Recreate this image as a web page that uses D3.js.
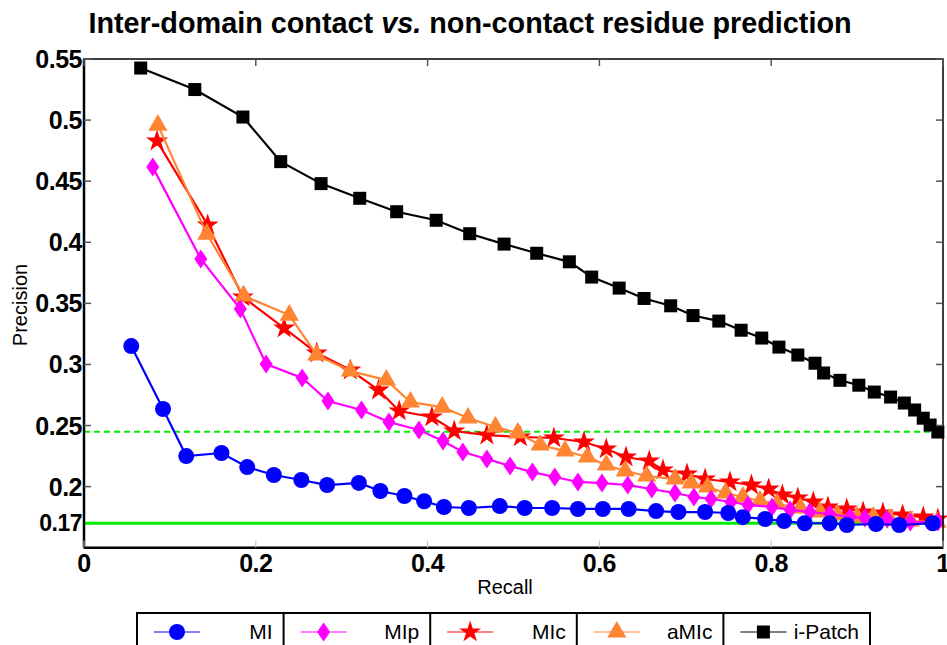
<!DOCTYPE html>
<html>
<head>
<meta charset="utf-8">
<script src="https://cdn.jsdelivr.net/npm/d3@7"></script>
<style>
  body { margin: 0; background: #fff; }
  svg { font-family: "Liberation Sans", Arial, Helvetica, sans-serif; }
  .tick-lab { font-weight: bold; font-size: 25px; fill: #000; }
</style>
</head>
<body>
<div id="chart"></div>
<script>
// precision / recall values
const miRecall = [0.055, 0.092, 0.119, 0.160, 0.190, 0.221, 0.253, 0.283, 0.320, 0.345, 0.373, 0.396, 0.419, 0.448, 0.484, 0.513, 0.545, 0.575, 0.604, 0.634, 0.666, 0.692, 0.723, 0.750, 0.767, 0.793, 0.815, 0.839, 0.868, 0.888, 0.922, 0.949, 0.988];
const miPrec   = [0.315, 0.2635, 0.225, 0.2275, 0.216, 0.2095, 0.2054, 0.2013, 0.203, 0.1964, 0.1923, 0.188, 0.1833, 0.1825, 0.1841, 0.1825, 0.1825, 0.1817, 0.1817, 0.1817, 0.180, 0.1792, 0.1792, 0.1784, 0.175, 0.1735, 0.1718, 0.170, 0.170, 0.1686, 0.1694, 0.1686, 0.170];

const mipRecall = [0.080, 0.136, 0.182, 0.212, 0.254, 0.284, 0.323, 0.355, 0.390, 0.418, 0.441, 0.469, 0.496, 0.522, 0.548, 0.575, 0.603, 0.633, 0.661, 0.688, 0.710, 0.730, 0.753, 0.773, 0.801, 0.822, 0.845, 0.868, 0.892, 0.909, 0.935, 0.962, 0.994];
const mipPrec   = [0.4615, 0.3863, 0.3453, 0.3003, 0.2889, 0.2700, 0.2627, 0.2529, 0.2463, 0.2373, 0.2283, 0.2226, 0.2169, 0.2119, 0.2079, 0.2038, 0.2029, 0.2013, 0.198, 0.1948, 0.1915, 0.1899, 0.1874, 0.185, 0.1833, 0.1809, 0.1792, 0.1776, 0.1751, 0.1743, 0.1735, 0.171, 0.171];

const micRecall = [0.085, 0.144, 0.185, 0.233, 0.271, 0.310, 0.343, 0.367, 0.405, 0.431, 0.469, 0.508, 0.547, 0.582, 0.608, 0.631, 0.658, 0.674, 0.702, 0.723, 0.752, 0.777, 0.797, 0.813, 0.831, 0.849, 0.866, 0.888, 0.907, 0.930, 0.953, 0.977, 0.994];
const micPrec   = [0.4828, 0.4141, 0.3552, 0.3298, 0.3093, 0.2954, 0.279, 0.2619, 0.257, 0.2455, 0.2422, 0.2406, 0.2398, 0.2365, 0.2308, 0.2242, 0.221, 0.2136, 0.2103, 0.2062, 0.2038, 0.2013, 0.198, 0.1931, 0.1907, 0.1874, 0.1833, 0.1817, 0.1792, 0.1784, 0.1768, 0.1751, 0.1735];

const amicRecall = [0.086, 0.143, 0.186, 0.239, 0.271, 0.310, 0.352, 0.380, 0.417, 0.447, 0.479, 0.505, 0.531, 0.560, 0.586, 0.608, 0.630, 0.655, 0.688, 0.707, 0.726, 0.747, 0.767, 0.787, 0.807, 0.834, 0.857, 0.877, 0.900, 0.919, 0.938, 0.962, 0.993];
const amicPrec   = [0.4959, 0.4067, 0.356, 0.3404, 0.3077, 0.2946, 0.2872, 0.2692, 0.2651, 0.2561, 0.2488, 0.2439, 0.234, 0.2291, 0.2242, 0.2177, 0.2128, 0.2087, 0.2062, 0.2029, 0.1997, 0.1948, 0.1915, 0.1882, 0.1858, 0.1825, 0.1792, 0.1768, 0.1751, 0.1751, 0.1735, 0.1718, 0.171];

const ipatchRecall = [0.066, 0.129, 0.185, 0.229, 0.276, 0.321, 0.364, 0.410, 0.449, 0.489, 0.527, 0.565, 0.591, 0.623, 0.652, 0.683, 0.709, 0.739, 0.765, 0.789, 0.809, 0.831, 0.851, 0.861, 0.880, 0.902, 0.920, 0.939, 0.955, 0.967, 0.977, 0.985, 0.994];
const ipatchPrec   = [0.5426, 0.525, 0.5025, 0.466, 0.448, 0.436, 0.425, 0.418, 0.407, 0.3985, 0.391, 0.384, 0.3715, 0.3625, 0.354, 0.348, 0.340, 0.3355, 0.328, 0.3216, 0.3142, 0.3077, 0.301, 0.293, 0.287, 0.283, 0.2774, 0.2733, 0.2684, 0.2627, 0.256, 0.2504, 0.2447];

const yTicks = [0.2, 0.25, 0.3, 0.35, 0.4, 0.45, 0.5, 0.55];
const xTicks = [0, 0.2, 0.4, 0.6, 0.8, 1];
const baseline = 0.17;      // random predictor
const dashedLevel = 0.245;

const seriesNames = ["MI", "MIp", "MIc", "aMIc", "i-Patch"];

function draw() {
  const width = 947, height = 645;
  const left = 84, right = 943, top = 59, bottom = 547.7;

  const x = d3.scaleLinear().domain([0, 1]).range([left, right]);
  const y = d3.scaleLinear().domain([0.15, 0.55]).range([bottom, top]);

  const svg = d3.select("#chart").append("svg")
    .attr("width", width).attr("height", height);

  const diamond = "M0,-9.5L6.5,0L0,9.5L-6.5,0Z";
  const series = [
    { name: "MI", xs: miRecall, ys: miPrec, color: "#0000ff", sym: "circle" },
    { name: "MIp", xs: mipRecall, ys: mipPrec, color: "#ff00ff", sym: "diamond" },
    { name: "MIc", xs: micRecall, ys: micPrec, color: "#ff0000", sym: "star" },
    { name: "aMIc", xs: amicRecall, ys: amicPrec, color: "#ff8533", sym: "triangle" },
    { name: "i-Patch", xs: ipatchRecall, ys: ipatchPrec, color: "#000000", sym: "square" }
  ];

  function marker(g, s) {
    if (s.sym === "circle") {
      g.append("circle").attr("r", 8).attr("fill", s.color);
    } else if (s.sym === "diamond") {
      g.append("path").attr("d", diamond).attr("fill", s.color);
    } else if (s.sym === "star") {
      g.append("path").attr("d", d3.symbol(d3.symbolStar, 150)()).attr("fill", s.color);
    } else if (s.sym === "triangle") {
      g.append("path").attr("d", d3.symbol(d3.symbolTriangle, 160)()).attr("fill", s.color);
    } else {
      g.append("rect").attr("x", -6.5).attr("y", -6.5).attr("width", 13).attr("height", 13).attr("fill", s.color);
    }
  }

  // reference lines
  svg.append("line")
    .attr("x1", x(0)).attr("x2", x(1))
    .attr("y1", y(dashedLevel)).attr("y2", y(dashedLevel))
    .attr("stroke", "#00ee00").attr("stroke-width", 2)
    .attr("stroke-dasharray", "6,4");
  svg.append("line")
    .attr("x1", x(0)).attr("x2", x(1))
    .attr("y1", y(baseline)).attr("y2", y(baseline))
    .attr("stroke", "#00ee00").attr("stroke-width", 3);

  const line = d3.line().x(d => x(d[0])).y(d => y(d[1]));
  const drawOrder = [4, 2, 3, 1, 0];
  drawOrder.forEach(i => {
    const s = series[i];
    const pts = s.xs.map((v, j) => [v, s.ys[j]]);
    svg.append("path").datum(pts)
      .attr("d", line)
      .attr("fill", "none")
      .attr("stroke", s.color)
      .attr("stroke-width", 2.2);
    svg.selectAll(null).data(pts).enter().append("g")
      .attr("transform", d => `translate(${x(d[0])},${y(d[1])})`)
      .each(function() { marker(d3.select(this), s); });
  });

  // frame and inward ticks
  svg.append("rect")
    .attr("x", left).attr("y", top)
    .attr("width", right - left).attr("height", bottom - top)
    .attr("fill", "none").attr("stroke", "#000").attr("stroke-width", 1.5);
  svg.append("line").attr("x1", left).attr("x2", left).attr("y1", top).attr("y2", bottom)
    .attr("stroke", "#000").attr("stroke-width", 2.5);
  svg.append("line").attr("x1", left).attr("x2", right).attr("y1", bottom).attr("y2", bottom)
    .attr("stroke", "#000").attr("stroke-width", 2.5);

  yTicks.forEach(t => {
    svg.append("line").attr("x1", left).attr("x2", left + 7).attr("y1", y(t)).attr("y2", y(t))
      .attr("stroke", "#555").attr("stroke-width", 1.5);
    svg.append("line").attr("x1", right - 7).attr("x2", right).attr("y1", y(t)).attr("y2", y(t))
      .attr("stroke", "#555").attr("stroke-width", 1.5);
    svg.append("text").attr("class", "tick-lab")
      .attr("x", left - 2).attr("y", y(t) + 9)
      .attr("text-anchor", "end")
      .style("letter-spacing", "-0.5px")
      .text(t);
  });
  svg.append("text").attr("class", "tick-lab")
    .attr("x", left - 2).attr("y", y(baseline) + 8)
    .attr("text-anchor", "end").style("font-size", "23px")
    .style("letter-spacing", "-0.5px")
    .text(baseline);

  xTicks.forEach(t => {
    svg.append("line").attr("x1", x(t)).attr("x2", x(t)).attr("y1", top).attr("y2", top + 7)
      .attr("stroke", "#555").attr("stroke-width", 1.5);
    svg.append("line").attr("x1", x(t)).attr("x2", x(t)).attr("y1", bottom - 7).attr("y2", bottom)
      .attr("stroke", "#bbb").attr("stroke-width", 1);
    svg.append("text").attr("class", "tick-lab")
      .attr("x", x(t)).attr("y", bottom + 24)
      .attr("text-anchor", "middle")
      .style("letter-spacing", "-0.5px")
      .text(t);
  });

  svg.append("text")
    .attr("x", 505).attr("y", 594)
    .attr("text-anchor", "middle")
    .style("font-size", "20px")
    .text("Recall");
  svg.append("text")
    .attr("transform", "translate(27,305) rotate(-90)")
    .attr("text-anchor", "middle")
    .style("font-size", "20px")
    .text("Precision");

  const title = svg.append("text")
    .attr("x", 470).attr("y", 33)
    .attr("text-anchor", "middle")
    .style("font-size", "28.8px").style("font-weight", "bold");
  title.append("tspan").text("Inter-domain contact ");
  title.append("tspan").style("font-style", "italic").text("vs.");
  title.append("tspan").text(" non-contact residue prediction");

  // legend
  const legX = 137, legY = 613, cellW = 146.6;
  const leg = svg.append("g");
  leg.append("rect")
    .attr("x", legX).attr("y", legY)
    .attr("width", cellW * 5).attr("height", 40)
    .attr("fill", "#fff").attr("stroke", "#000").attr("stroke-width", 2);
  series.forEach((s, i) => {
    const cx = legX + i * cellW;
    if (i > 0) {
      leg.append("line").attr("x1", cx).attr("x2", cx).attr("y1", legY).attr("y2", height)
        .attr("stroke", "#000").attr("stroke-width", 2);
    }
    leg.append("line")
      .attr("x1", cx + 17).attr("x2", cx + 63)
      .attr("y1", legY + 19).attr("y2", legY + 19)
      .attr("stroke", s.color).attr("stroke-width", 1);
    const g = leg.append("g").attr("transform", `translate(${cx + 40},${legY + 19})`);
    marker(g, s);
    leg.append("text")
      .attr("x", cx + cellW - 11).attr("y", legY + 26)
      .attr("text-anchor", "end")
      .style("font-size", "21px")
      .text(seriesNames[i]);
  });
}

draw();
</script>
</body>
</html>
